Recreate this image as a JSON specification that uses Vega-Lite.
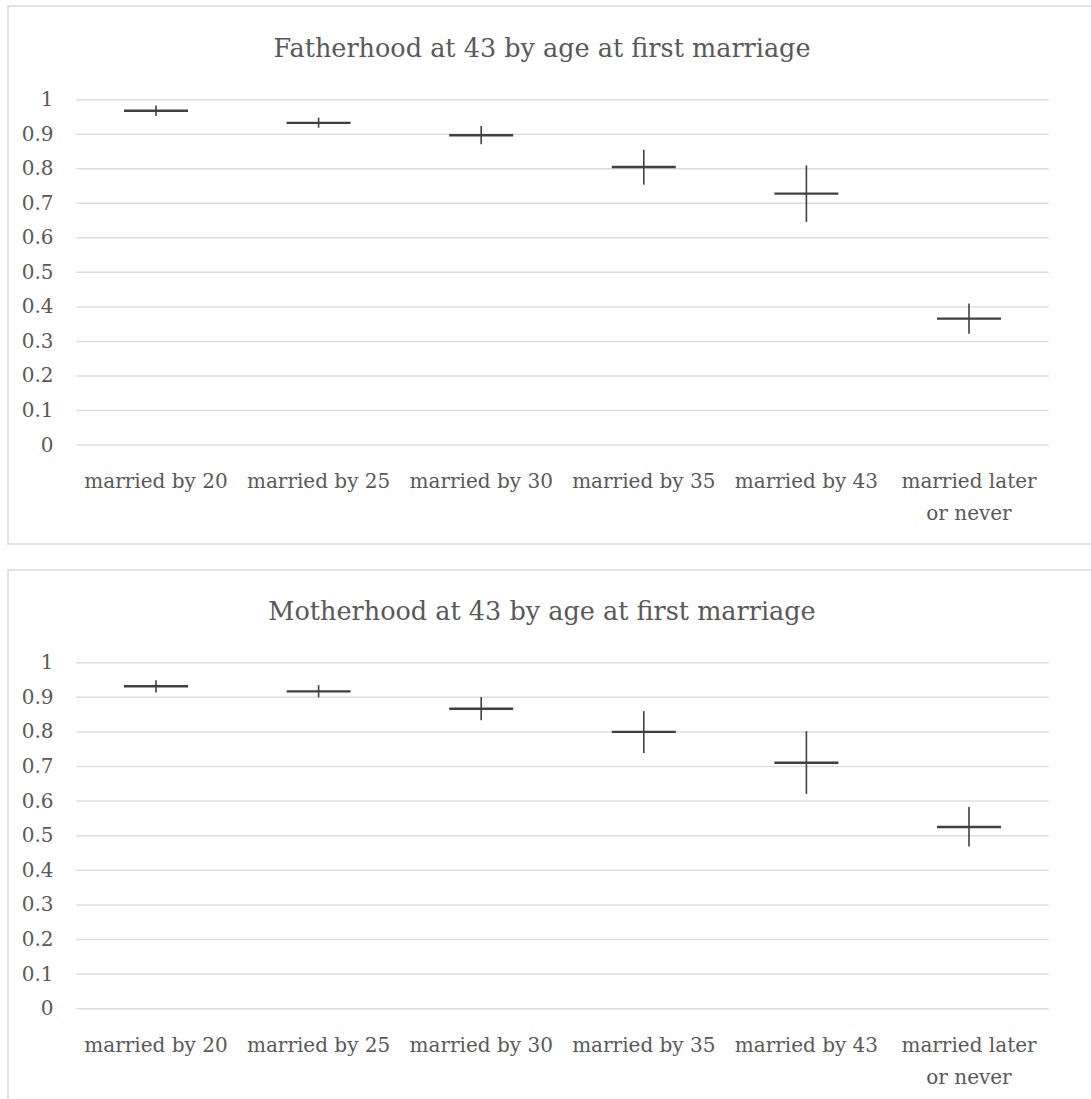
{
  "$schema": "https://vega.github.io/schema/vega-lite/v6.json",
  "padding": {"left": 7, "top": 5, "right": 0, "bottom": 0},
  "spacing": 24,
  "datasets": {
    "grid": [{"v": 0}, {"v": 0.1}, {"v": 0.2}, {"v": 0.3}, {"v": 0.4}, {"v": 0.5}, {"v": 0.6}, {"v": 0.7}, {"v": 0.8}, {"v": 0.9}, {"v": 1}],
    "father": [
      {"idx": 0, "category": "married by 20", "p": 0.968, "lo": 0.953, "hi": 0.983},
      {"idx": 1, "category": "married by 25", "p": 0.933, "lo": 0.919, "hi": 0.948},
      {"idx": 2, "category": "married by 30", "p": 0.897, "lo": 0.871, "hi": 0.924},
      {"idx": 3, "category": "married by 35", "p": 0.805, "lo": 0.754, "hi": 0.855},
      {"idx": 4, "category": "married by 43", "p": 0.728, "lo": 0.646, "hi": 0.810},
      {"idx": 5, "category": "married later\nor never", "p": 0.366, "lo": 0.322, "hi": 0.410}
    ],
    "mother": [
      {"idx": 0, "category": "married by 20", "p": 0.932, "lo": 0.914, "hi": 0.949},
      {"idx": 1, "category": "married by 25", "p": 0.917, "lo": 0.900, "hi": 0.935},
      {"idx": 2, "category": "married by 30", "p": 0.867, "lo": 0.834, "hi": 0.901},
      {"idx": 3, "category": "married by 35", "p": 0.800, "lo": 0.739, "hi": 0.860},
      {"idx": 4, "category": "married by 43", "p": 0.711, "lo": 0.621, "hi": 0.802},
      {"idx": 5, "category": "married later\nor never", "p": 0.525, "lo": 0.469, "hi": 0.583}
    ]
  },
  "vconcat": [
    {
      "width": 1084,
      "height": 538,
      "title": {"text": "Fatherhood at 43 by age at first marriage", "font": "DejaVu Serif", "fontSize": 25.5, "fontWeight": "normal", "color": "#595959", "anchor": "middle", "frame": "group", "offset": -76, "baseline": "alphabetic", "dx": -8},
      "layer": [
        {
          "data": {"name": "grid"},
          "mark": {"type": "rule", "color": "#dddddd", "strokeWidth": 1.5},
          "encoding": {
            "y": {"field": "v", "type": "quantitative", "scale": {"domain": [-0.2867, 1.2714], "nice": false, "zero": false},
                  "axis": {"orient": "left", "values": [0, 0.1, 0.2, 0.3, 0.4, 0.5, 0.6, 0.7, 0.8, 0.9, 1], "domain": false, "ticks": false, "grid": false, "labelPadding": 0, "offset": -45, "labelFont": "DejaVu Serif", "labelFontSize": 20, "labelColor": "#595959", "title": null, "labelExpr": "datum.value == 0 ? '0' : datum.value == 1 ? '1' : format(datum.value, '.1f')"}},
            "x": {"datum": -0.49, "type": "quantitative", "scale": {"domain": [-0.9102, 5.7565], "nice": false, "zero": false}, "axis": null},
            "x2": {"datum": 5.49}
          }
        },
        {
          "data": {"name": "father"},
          "mark": {"type": "rule", "color": "#404040", "strokeWidth": 1.6},
          "encoding": {
            "x": {"field": "idx", "type": "quantitative"},
            "y": {"field": "lo", "type": "quantitative"},
            "y2": {"field": "hi"}
          }
        },
        {
          "data": {"name": "father"},
          "mark": {"type": "tick", "orient": "horizontal", "size": 64, "thickness": 2.4, "color": "#404040", "opacity": 1},
          "encoding": {
            "x": {"field": "idx", "type": "quantitative"},
            "y": {"field": "p", "type": "quantitative"}
          }
        },
        {
          "data": {"name": "father"},
          "mark": {"type": "text", "font": "DejaVu Serif", "fontSize": 20, "color": "#595959", "baseline": "alphabetic", "align": "center", "lineBreak": "\n", "lineHeight": 32},
          "encoding": {
            "x": {"field": "idx", "type": "quantitative"},
            "y": {"datum": -0.1245, "type": "quantitative"},
            "text": {"field": "category"}
          }
        }
      ]
    },
    {
      "width": 1084,
      "height": 533,
      "title": {"text": "Motherhood at 43 by age at first marriage", "font": "DejaVu Serif", "fontSize": 25.5, "fontWeight": "normal", "color": "#595959", "anchor": "middle", "frame": "group", "offset": -75, "baseline": "alphabetic", "dx": -8},
      "layer": [
        {
          "data": {"name": "grid"},
          "mark": {"type": "rule", "color": "#dddddd", "strokeWidth": 1.5},
          "encoding": {
            "y": {"field": "v", "type": "quantitative", "scale": {"domain": [-0.2725, 1.2679], "nice": false, "zero": false},
                  "axis": {"orient": "left", "values": [0, 0.1, 0.2, 0.3, 0.4, 0.5, 0.6, 0.7, 0.8, 0.9, 1], "domain": false, "ticks": false, "grid": false, "labelPadding": 0, "offset": -45, "labelFont": "DejaVu Serif", "labelFontSize": 20, "labelColor": "#595959", "title": null, "labelExpr": "datum.value == 0 ? '0' : datum.value == 1 ? '1' : format(datum.value, '.1f')"}},
            "x": {"datum": -0.49, "type": "quantitative", "scale": {"domain": [-0.9102, 5.7565], "nice": false, "zero": false}, "axis": null},
            "x2": {"datum": 5.49}
          }
        },
        {
          "data": {"name": "mother"},
          "mark": {"type": "rule", "color": "#404040", "strokeWidth": 1.6},
          "encoding": {
            "x": {"field": "idx", "type": "quantitative"},
            "y": {"field": "lo", "type": "quantitative"},
            "y2": {"field": "hi"}
          }
        },
        {
          "data": {"name": "mother"},
          "mark": {"type": "tick", "orient": "horizontal", "size": 64, "thickness": 2.4, "color": "#404040", "opacity": 1},
          "encoding": {
            "x": {"field": "idx", "type": "quantitative"},
            "y": {"field": "p", "type": "quantitative"}
          }
        },
        {
          "data": {"name": "mother"},
          "mark": {"type": "text", "font": "DejaVu Serif", "fontSize": 20, "color": "#595959", "baseline": "alphabetic", "align": "center", "lineBreak": "\n", "lineHeight": 32},
          "encoding": {
            "x": {"field": "idx", "type": "quantitative"},
            "y": {"datum": -0.1245, "type": "quantitative"},
            "text": {"field": "category"}
          }
        }
      ]
    }
  ],
  "resolve": {"scale": {"x": "independent", "y": "independent"}},
  "config": {
    "view": {"stroke": "#d9d9d9", "strokeWidth": 1.5},
    "font": "DejaVu Serif"
  }
}
